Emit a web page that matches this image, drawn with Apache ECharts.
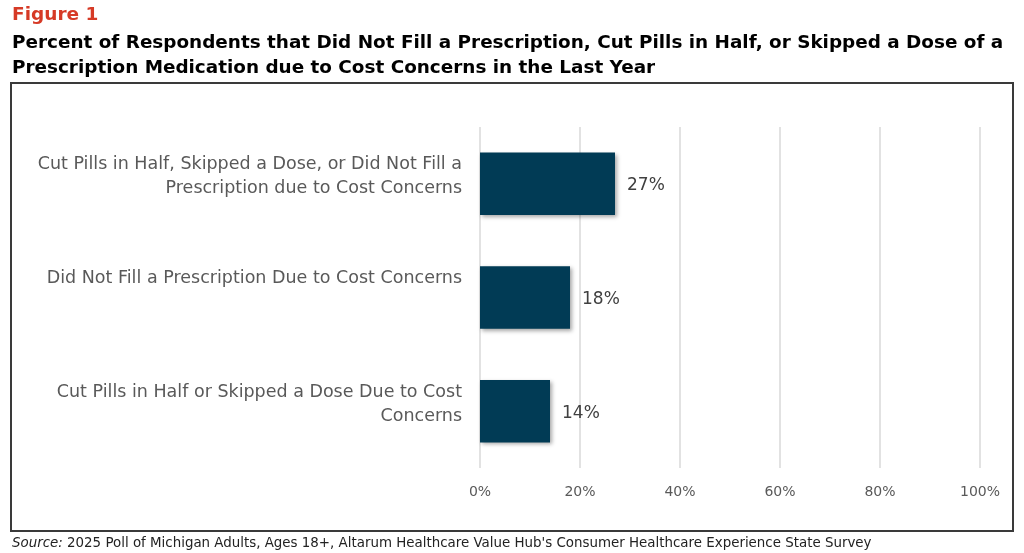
<!DOCTYPE html>
<html><head><meta charset="utf-8">
<script src="https://cdn.jsdelivr.net/npm/echarts@6/dist/echarts.min.js"></script>
<style>html,body{margin:0;padding:0;background:#fff}#c{width:1024px;height:553px}</style>
</head><body><div id="c"></div>
<script>
const categories = [
  "Cut Pills in Half, Skipped a Dose, or Did Not Fill a\nPrescription due to Cost Concerns",
  "Did Not Fill a Prescription Due to Cost Concerns",
  "Cut Pills in Half or Skipped a Dose Due to Cost\nConcerns"
];
const values = [27, 18, 14];
const tickValues = [0, 20, 40, 60, 80, 100];

const FONT = 'DejaVu Sans';
const chart = echarts.init(document.getElementById('c'));
chart.setOption({
  backgroundColor: '#fff',
  animation: false,
  title: [
    {text: 'Figure 1', left: 12, top: 6, padding: 0, textStyle: {fontFamily: FONT, fontWeight: 'bold', fontSize: 18.5, color: '#d63a26'}},
    {text: 'Percent of Respondents that Did Not Fill a Prescription, Cut Pills in Half, or Skipped a Dose of a\nPrescription Medication due to Cost Concerns in the Last Year',
     left: 12, top: 31, padding: 0, textStyle: {fontFamily: FONT, fontWeight: 'bold', fontSize: 18.4, color: '#000', lineHeight: 25}},
    {text: '{i|Source:} 2025 Poll of Michigan Adults, Ages 18+, Altarum Healthcare Value Hub\'s Consumer Healthcare Experience State Survey',
     left: 12, top: 537, padding: 0, textStyle: {fontFamily: FONT, fontWeight: 'normal', fontSize: 13.4, color: '#222',
       rich: {i: {fontStyle: 'italic', fontFamily: FONT, fontSize: 13.4, color: '#222'}}}}
  ],
  graphic: [
    {type: 'rect', shape: {x: 11, y: 83, width: 1002, height: 448}, style: {fill: 'none', stroke: '#3a3a3a', lineWidth: 2}, z: -1}
  ],
  grid: {left: 480, right: 44, top: 127, bottom: 85, containLabel: false},
  xAxis: {
    type: 'value', min: 0, max: 100, interval: 20,
    axisLine: {show: false}, axisTick: {show: false},
    splitLine: {lineStyle: {color: '#d9d9d9', width: 1.5}},
    axisLabel: {formatter: v => tickValues.includes(v) ? v + '%' : '', margin: 17, fontFamily: FONT, fontSize: 14, color: '#595959'}
  },
  yAxis: {
    type: 'category', data: categories, inverse: true,
    axisLine: {show: false}, axisTick: {show: false},
    axisLabel: {margin: 18, fontFamily: FONT, fontSize: 17.5, color: '#595959', lineHeight: 24, align: 'right',
      formatter: s => (s.indexOf('\n') >= 0 ? s : s + '\n ') + '\n{s| }',
      rich: {s: {lineHeight: 14, fontSize: 8}}}
  },
  series: [{
    type: 'bar', data: values, barWidth: '55%',
    itemStyle: {color: '#013b55', shadowColor: 'rgba(0,0,0,0.35)', shadowBlur: 4, shadowOffsetX: 2, shadowOffsetY: 2},
    label: {show: true, position: 'right', distance: 12, formatter: '{c}%', fontFamily: FONT, fontSize: 17, color: '#404040', offset: [0, 2]}
  }]
});
</script></body></html>
